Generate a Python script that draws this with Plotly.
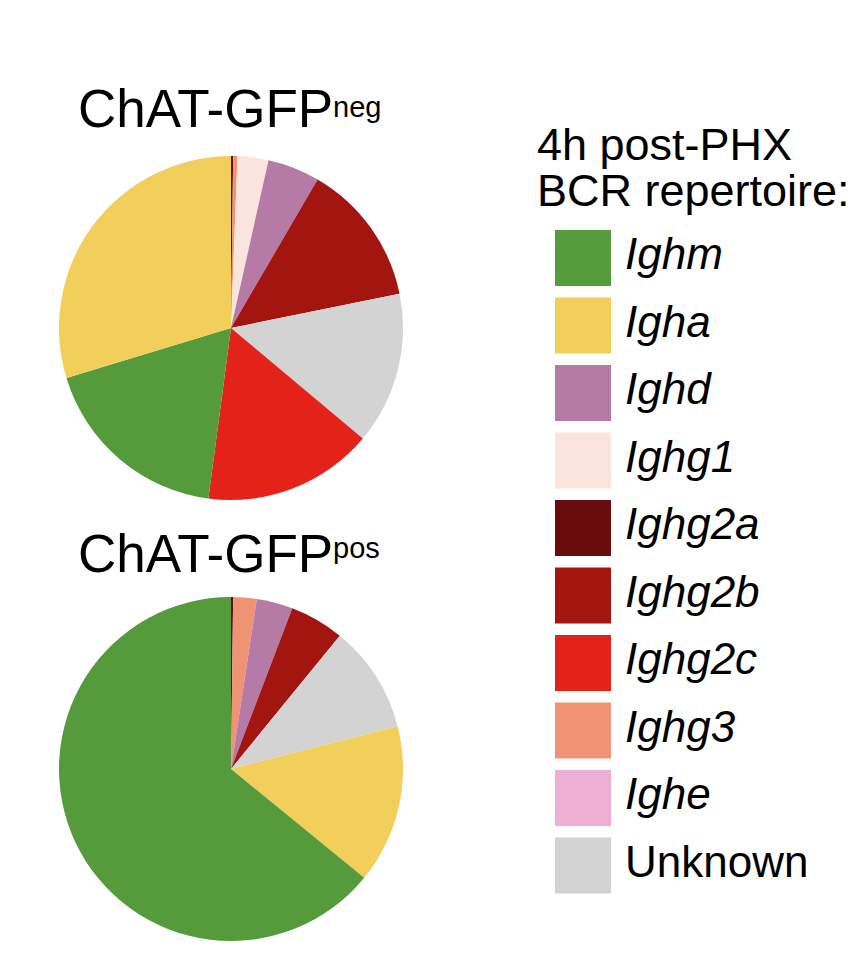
import plotly.graph_objects as go

# legend order / colours
legend_labels = ["Ighm", "Igha", "Ighd", "Ighg1", "Ighg2a", "Ighg2b", "Ighg2c", "Ighg3", "Ighe", "Unknown"]
legend_colors = ["#559B3B", "#F2CF5B", "#B57AA5", "#FCE4DE", "#6B0C0C",
                 "#A3150F", "#E3221A", "#F09375", "#EFAED3", "#D3D3D3"]
color_of = dict(zip(legend_labels, legend_colors))

# slices, clockwise from 12 o'clock (percent)
neg_labels = ["Ighg2a", "Ighg3", "Ighg1", "Ighd", "Ighg2b", "Unknown", "Ighg2c", "Ighm", "Igha"]
neg_values = [0.2, 0.4, 2.9, 4.9, 13.4, 14.3, 16.0, 18.2, 29.7]

pos_labels = ["Ighg2a", "Ighg3", "Ighd", "Ighg2b", "Unknown", "Igha", "Ighm"]
pos_values = [0.2, 2.2, 3.4, 5.1, 10.1, 14.9, 64.1]

FONT = "Liberation Sans, Arial, sans-serif"
W, H = 864, 962
OFF = 8  # page body margin


def px(x):
    return (x - OFF) / W


def py(y):
    return 1 - (y - OFF) / H


fig = go.Figure()

fig.add_trace(go.Pie(
    labels=neg_labels, values=neg_values,
    marker=dict(colors=[color_of[l] for l in neg_labels], line=dict(width=0)),
    sort=False, direction="clockwise", textinfo="none", showlegend=False,
    domain=dict(x=[px(59), px(403)], y=[py(500), py(156)]),
))
fig.add_trace(go.Pie(
    labels=pos_labels, values=pos_values,
    marker=dict(colors=[color_of[l] for l in pos_labels], line=dict(width=0)),
    sort=False, direction="clockwise", textinfo="none", showlegend=False,
    domain=dict(x=[px(59), px(403)], y=[py(941), py(597)]),
))

# legend drawn as squares on a hidden category axis
x0_px, x1_px = 518, 864
sq_px, txt_px = 583, 625
x_rng = [-1, -1 + (x1_px - x0_px) / (sq_px - x0_px)]
txt_x = -1 + (txt_px - x0_px) / (sq_px - x0_px)

fig.add_trace(go.Scatter(
    x=[0] * len(legend_labels), y=legend_labels, mode="markers",
    marker=dict(symbol="square", size=56, color=legend_colors, line=dict(width=0)),
    showlegend=False, hoverinfo="skip",
))
fig.add_trace(go.Scatter(
    x=[txt_x] * len(legend_labels), y=legend_labels, mode="text",
    text=[l if l == "Unknown" else "<i>%s</i>" % l for l in legend_labels],
    textposition="middle right",
    textfont=dict(family=FONT, size=44, color="black"),
    showlegend=False, hoverinfo="skip",
))

fig.update_xaxes(domain=[(x0_px - OFF) / W, (x1_px - OFF) / W], range=x_rng,
                 visible=False, fixedrange=True)
fig.update_yaxes(domain=[py(258 + 9 * 67.5 + 33.75), py(258 - 33.75)], type="category",
                 categoryorder="array", categoryarray=legend_labels,
                 range=[9.5, -0.5], visible=False, fixedrange=True)


def label(text, x, y, size, anchor):
    fig.add_annotation(text=text, x=px(x), y=py(y), xref="paper", yref="paper",
                       xanchor=anchor, yanchor="middle", showarrow=False, borderpad=0,
                       font=dict(family=FONT, size=size, color="black"))


label("ChAT-GFP", 334, 108.5, 53, "right")
label("neg", 332, 107, 29, "left")
label("ChAT-GFP", 334, 553.5, 53, "right")
label("pos", 332, 548, 29, "left")
label("4h post-PHX", 536, 145, 45, "left")
label("BCR repertoire:", 536, 190, 45, "left")

fig.update_layout(
    width=W, height=H,
    margin=dict(l=0, r=0, t=0, b=0),
    paper_bgcolor="white", plot_bgcolor="white",
    font=dict(family=FONT),
)

fig.write_html("out.html")
